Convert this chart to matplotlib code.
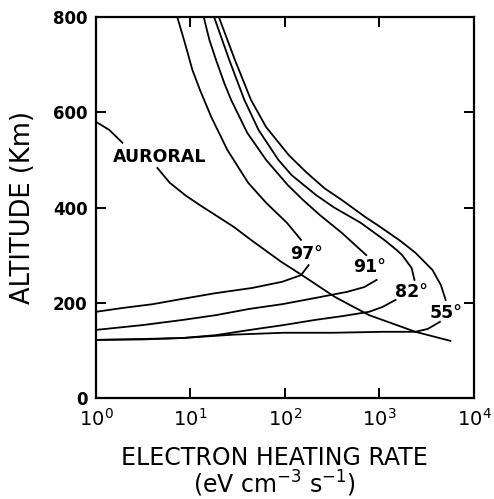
import numpy as np
import matplotlib
matplotlib.use('Agg')
import matplotlib.pyplot as plt
from matplotlib.ticker import FixedLocator, NullLocator

# log10 of electron heating rate (eV cm-3 s-1) and altitude (km)
lx_97_up = [0.86, 0.94, 1.02, 1.10, 1.22, 1.39, 1.61, 1.80, 2.02, 2.17]
alt_97_up = [800, 746, 689, 647, 590, 521, 452, 410, 368, 332]
lx_97_lo = [2.25, 2.17, 1.97, 1.65, 1.26, 0.91, 0.60, 0.28, 0.0]
alt_97_lo = [279, 258, 244, 231, 220, 208, 197, 189, 181]

lx_91_up = [1.14, 1.20, 1.27, 1.36, 1.43, 1.60, 1.80, 2.03, 2.19, 2.37, 2.60, 2.86]
alt_91_up = [800, 752, 710, 660, 626, 557, 500, 447, 416, 384, 347, 300]
lx_91_lo = [2.97, 2.84, 2.66, 2.32, 1.97, 1.62, 1.27, 0.92, 0.49, 0.0]
alt_91_lo = [248, 233, 223, 210, 197, 187, 174, 164, 153, 143]

lx_82_up = [1.25, 1.41, 1.57, 1.72, 1.93, 2.07, 2.33, 2.52, 2.80, 3.05, 3.18, 3.24, 3.34, 3.37]
alt_82_up = [800, 710, 626, 563, 500, 468, 426, 400, 368, 332, 311, 300, 273, 248]
lx_82_lo = [3.17, 3.03, 2.89, 2.61, 2.32, 1.98, 1.63, 1.27, 0.92, 0.50, 0.0]
alt_82_lo = [206, 191, 181, 172, 164, 153, 143, 132, 126, 124, 122]

lx_55_up = [1.30, 1.47, 1.64, 1.80, 2.04, 2.22, 2.42, 2.60, 2.85, 3.01, 3.22, 3.38, 3.56, 3.65, 3.70]
alt_55_up = [800, 710, 626, 569, 510, 475, 440, 416, 380, 359, 330, 305, 269, 237, 206]
lx_55_lo = [3.64, 3.51, 3.38, 3.04, 2.51, 1.98, 1.45, 0.92, 0.50, 0.0]
alt_55_lo = [160, 145, 139, 139, 137, 137, 133, 126, 123, 122]

lx_aur_up = [0.0, 0.14, 0.28]
alt_aur_up = [580, 563, 536]
lx_aur_lo = [0.65, 0.78, 0.95, 1.10, 1.46, 1.64, 1.96, 2.18, 2.53, 2.89, 3.38, 3.75]
alt_aur_lo = [483, 452, 425, 405, 359, 332, 286, 258, 212, 174, 139, 120]

# curve labels: text, log10 x, altitude
labels = ['97°', '91°', '82°', '55°', 'AURORAL']
label_lx = [2.23, 2.89, 3.34, 3.70, 0.67]
label_alt = [302, 275, 223, 178, 506]

plt.rcParams['font.family'] = 'DejaVu Sans'
plt.rcParams['mathtext.fontset'] = 'dejavusans'

fig = plt.figure(figsize=(4.94, 4.99), dpi=100)
ax = fig.add_axes([0.1943, 0.2024, 0.7652, 0.7635])

segments = [(lx_97_up, alt_97_up), (lx_97_lo, alt_97_lo),
            (lx_91_up, alt_91_up), (lx_91_lo, alt_91_lo),
            (lx_82_up, alt_82_up), (lx_82_lo, alt_82_lo),
            (lx_55_up, alt_55_up), (lx_55_lo, alt_55_lo),
            (lx_aur_up, alt_aur_up), (lx_aur_lo, alt_aur_lo)]
for lx, alt in segments:
    ax.plot(10 ** np.array(lx), alt, color='black', lw=1.3,
            solid_joinstyle='round')

for txt, lx, alt in zip(labels, label_lx, label_alt):
    ax.text(10 ** lx, alt, txt, ha='center', va='center',
            fontsize=12.5, fontweight='bold')

ax.set_xscale('log')
ax.set_xlim(1, 1e4)
ax.set_ylim(0, 800)
ax.xaxis.set_major_locator(FixedLocator([1, 10, 100, 1000, 10000]))
ax.xaxis.set_minor_locator(NullLocator())
ax.set_xticklabels([r'$10^{0}$', r'$10^{1}$', r'$10^{2}$', r'$10^{3}$', r'$10^{4}$'],
                   fontsize=14)
ax.set_yticks([0, 200, 400, 600, 800])
ax.set_yticklabels(['0', '200', '400', '600', '800'], fontsize=12, fontweight='bold')
ax.tick_params(direction='in', top=True, right=True, length=7, width=1.4)
ax.tick_params(axis='x', pad=7)
ax.tick_params(axis='y', pad=6)
for sp in ax.spines.values():
    sp.set_linewidth(1.6)

ax.set_xlabel('ELECTRON HEATING RATE\n' + r'(eV cm$^{-3}$ s$^{-1}$)',
              fontsize=17, linespacing=0.95)
ax.xaxis.set_label_coords(0.471, -0.125)
ax.set_ylabel('ALTITUDE (Km)', fontsize=18.5)
ax.yaxis.set_label_coords(-0.16, 0.5)

fig.savefig('out.png', dpi=100)
